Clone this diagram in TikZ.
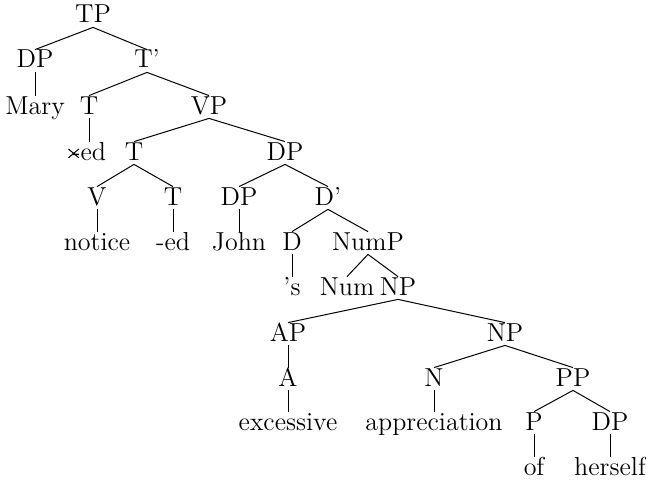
\documentclass[tikz,border=0pt]{standalone}
\begin{document}
\begin{tikzpicture}[x=0.5pt,y=-0.5pt,
  lab/.style={anchor=base,inner xsep=1pt,inner ysep=2pt,text height=0.7em,text depth=0pt,font=\fontsize{13}{15}\selectfont},
  br/.style={line width=0.5pt}]
\useasboundingbox (0,0) rectangle (646,481);
% rows: baseline = centre + 8
\node[lab] (TP) at (93,23) {TP};
\node[lab] (DPa) at (35,68) {DP};
\node[lab] (Tbar) at (147,68) {T'};
\node[lab] (Mary) at (35,114) {Mary};
\node[lab] (Ta) at (89,114) {T};
\node[lab] (VP) at (209,114) {VP};
\node[lab] (edx) at (89,160) {-ed};
\node[lab] (Tb) at (134,160) {T};
\node[lab] (DPb) at (285,160) {DP};
\node[lab] (V) at (97,205) {V};
\node[lab] (Tc) at (173,205) {T};
\node[lab] (DPc) at (239,205) {DP};
\node[lab] (Dbar) at (328,205) {D'};
\node[lab] (notice) at (97,250) {notice};
\node[lab] (ed) at (173,250) {-ed};
\node[lab] (John) at (239,250) {John};
\node[lab] (D) at (292,250) {D};
\node[lab] (NumP) at (368,250) {NumP};
\node[lab] (s) at (292,295) {'s};
\node[lab] (Num) at (347,295) {Num};
\node[lab] (NPa) at (398,295) {NP};
\node[lab] (AP) at (288,341) {AP};
\node[lab] (NPb) at (505,341) {NP};
\node[lab] (A) at (288,386) {A};
\node[lab] (N) at (434,386) {N};
\node[lab] (PP) at (573,386) {PP};
\node[lab] (excessive) at (288,430) {excessive};
\node[lab] (appreciation) at (434,430) {appreciation};
\node[lab] (P) at (534,430) {P};
\node[lab] (DPd) at (610,430) {DP};
\node[lab] (of) at (534,475) {of};
\node[lab] (herself) at (610,475) {herself};
% strike-out cross over the hyphen of -ed
\coordinate (cx) at ([xshift=2pt,yshift=3.3pt]edx.base west);
\draw[br] ([xshift=-2.6pt,yshift=2.2pt]cx) -- ([xshift=2.6pt,yshift=-2.2pt]cx)
          ([xshift=-2.6pt,yshift=-2.2pt]cx) -- ([xshift=2.6pt,yshift=2.2pt]cx);
\foreach \p/\c in {TP/DPa,TP/Tbar,DPa/Mary,Tbar/Ta,Tbar/VP,Ta/edx,VP/Tb,VP/DPb,
  Tb/V,Tb/Tc,V/notice,Tc/ed,DPb/DPc,DPb/Dbar,DPc/John,Dbar/D,Dbar/NumP,D/s,
  NumP/Num,NumP/NPa,NPa/AP,NPa/NPb,AP/A,A/excessive,NPb/N,NPb/PP,N/appreciation,
  PP/P,PP/DPd,P/of,DPd/herself}
  \draw[br] (\p.south) -- (\c.north);
\end{tikzpicture}
\end{document}
